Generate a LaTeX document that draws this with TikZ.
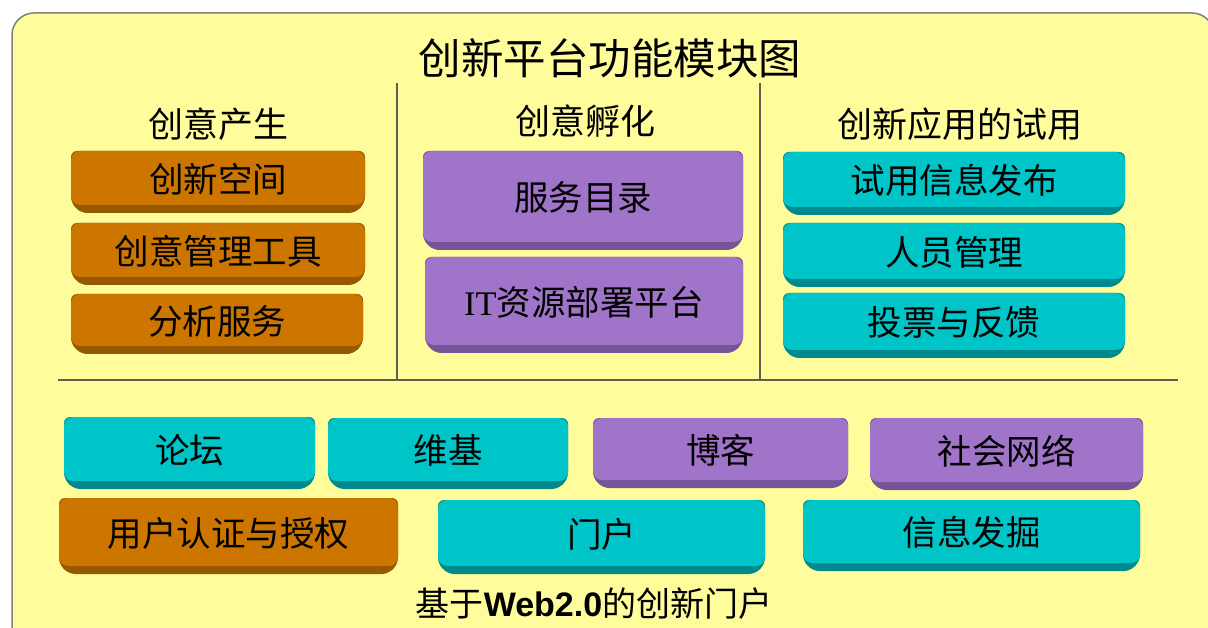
\documentclass[tikz,border=0pt]{standalone}
\usepackage{fontspec}
\setmainfont{Noto Sans CJK SC}
\newfontfamily\latinserif{Liberation Serif}
\newfontfamily\latinsans{Liberation Sans}
\definecolor{bgyellow}{RGB}{255,252,155}
\definecolor{orng}{RGB}{204,118,0}
\definecolor{orngd}{RGB}{150,88,0}
\definecolor{purp}{RGB}{160,116,200}
\definecolor{purpd}{RGB}{118,84,152}
\definecolor{cyn}{RGB}{0,197,200}
\definecolor{cynd}{RGB}{0,138,142}
\definecolor{rulegray}{RGB}{95,95,80}
\tikzset{
  lbl/.style={inner sep=0pt, font=\fontsize{34.5}{37}\selectfont, text=black},
  hdr/.style={inner sep=0pt, font=\fontsize{35}{38}\selectfont, text=black},
  ttl/.style={inner sep=0pt, font=\fontsize{42.5}{45}\selectfont, text=black},
  rule/.style={draw=rulegray, line width=1.6pt},
}
\newcommand\blk[7]{%
  \fill[#6d, rounded corners=6pt] (#2,#3) -- (#4,#3) -- (#4,#5-10) -- (#4-10,#5) -- (#2+10,#5) -- (#2,#5-10) -- cycle;
  \fill[#6, rounded corners=9pt] (#2,#3) rectangle (#4,#5-8);
  \node[lbl] (#1) at ({(#2+#4)/2},{(#3+#5-6)/2}) {#7};%
}
\begin{document}
\begin{tikzpicture}[x=1pt,y=-1pt]
\useasboundingbox (0,0) rectangle (1208,628);
\fill[white] (0,0) rectangle (1208,628);
\begin{scope}
\clip (0,0) rectangle (1208,628);
\filldraw[fill=bgyellow, draw=gray, line width=1.5pt, rounded corners=22pt] (12,13) rectangle (1214,648);
\end{scope}
% title and headers
\node[ttl] (title) at (610,58) {创新平台功能模块图};
\node[hdr] (h1) at (218,124) {创意产生};
\node[hdr] (h2) at (585,121) {创意孵化};
\node[hdr] (h3) at (960,124) {创新应用的试用};
% rules
\coordinate (hl) at (58,380);
\coordinate (hr) at (1178,380);
\coordinate (v1t) at (397,83);
\coordinate (v1b) at (397,380);
\coordinate (v2t) at (760,83);
\coordinate (v2b) at (760,380);
\draw[rule] (hl) -- (hr);
\draw[rule] (v1t) -- (v1b);
\draw[rule] (v2t) -- (v2b);
% left column
\blk{oa}{71}{151}{365}{213}{orng}{创新空间}
\blk{ob}{71}{223}{365}{285}{orng}{创意管理工具}
\blk{oc}{71}{294}{363}{354}{orng}{分析服务}
% middle column
\blk{pa}{423}{151}{743}{250}{purp}{服务目录}
\blk{pb}{425}{257}{743}{353}{purp}{{\latinserif IT}资源部署平台}
% right column
\blk{ca}{783}{152}{1125}{215}{cyn}{试用信息发布}
\blk{cb}{783}{223}{1125}{287}{cyn}{人员管理}
\blk{cc}{783}{293}{1125}{358}{cyn}{投票与反馈}
% bottom rows
\blk{b1}{64}{417}{315}{489}{cyn}{论坛}
\blk{b2}{328}{418}{568}{489}{cyn}{维基}
\blk{b3}{593}{418}{848}{488}{purp}{博客}
\blk{b4}{870}{418}{1143}{490}{purp}{社会网络}
\blk{b5}{59}{498}{398}{574}{orng}{用户认证与授权}
\blk{b6}{438}{500}{765}{574}{cyn}{门户}
\blk{b7}{803}{500}{1140}{571}{cyn}{信息发掘}
% footer
\node[inner sep=0pt, font=\fontsize{34}{37}\selectfont] (foot) at (594,604) {基于{\latinsans\bfseries Web2.0}的创新门户};
\end{tikzpicture}
\end{document}
